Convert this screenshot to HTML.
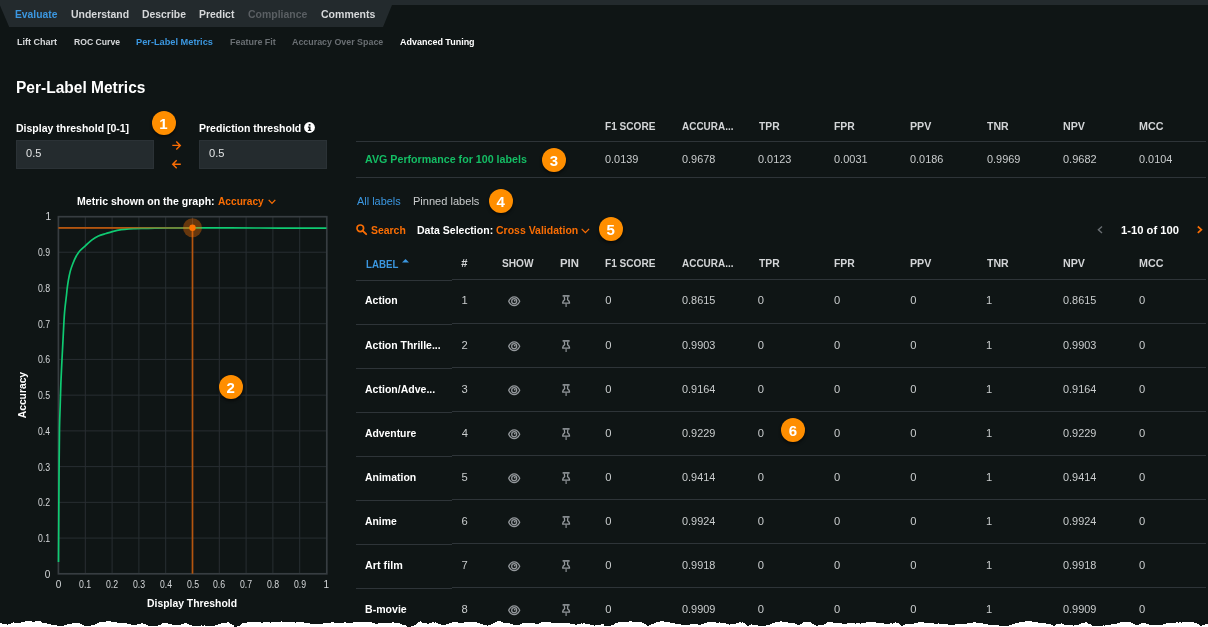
<!DOCTYPE html><html lang="en"><head><meta charset="utf-8"><title>Per-Label Metrics</title><style>
*{box-sizing:border-box}
html,body{margin:0;padding:0}
body{width:1208px;height:627px;overflow:hidden;background:#0f1515;position:relative;font-family:"Liberation Sans", sans-serif;font-weight:700}
.t{position:absolute;white-space:pre;line-height:1;margin:0;padding:0;font-weight:700;text-decoration:none;display:block;transform-origin:0 0}
h1.t{font-weight:700}
.navbg{position:absolute;left:0;top:0;width:1208px;height:27px;background:#232a2d;clip-path:polygon(0 0,1208px 0,1208px 5px,392px 5px,383px 27px,9.2px 27px,0 5.5px)}
.inp{position:absolute;top:140px;height:28.8px;background:#242b2e;border:1px solid #2b3236}
.hl{position:absolute;height:1px;background:#2e3438}
.badge{position:absolute;border-radius:50%;background:#ff8e00;box-shadow:0 2px 3px rgba(0,0,0,.55)}
.ic{position:absolute;overflow:visible}
.chart text{font-family:"Liberation Sans", sans-serif}
.chart .ax{fill:#fff;font-weight:700}
</style></head><body><div class="navbg"></div><nav class="tabs"><a class="t" style="left:15.47px;top:8.90px;font-size:11.3px;color:#3b97e0;transform:scaleX(0.912);">Evaluate</a><a class="t" style="left:71.14px;top:8.90px;font-size:11.3px;color:#d6d8da;transform:scaleX(0.926);">Understand</a><a class="t" style="left:142.24px;top:8.90px;font-size:11.3px;color:#d6d8da;transform:scaleX(0.920);">Describe</a><a class="t" style="left:199.19px;top:8.90px;font-size:11.3px;color:#d6d8da;transform:scaleX(0.923);">Predict</a><a class="t" style="left:248.27px;top:8.90px;font-size:11.3px;color:#5a5f63;transform:scaleX(0.928);">Compliance</a><a class="t" style="left:320.53px;top:8.90px;font-size:11.3px;color:#d6d8da;transform:scaleX(0.932);">Comments</a></nav><nav class="subtabs"><a class="t" style="left:17.39px;top:37.10px;font-size:9.6px;color:#d6d8da;transform:scaleX(0.941);">Lift Chart</a><a class="t" style="left:73.88px;top:37.10px;font-size:9.6px;color:#d6d8da;transform:scaleX(0.900);">ROC Curve</a><a class="t" style="left:136.18px;top:37.10px;font-size:9.6px;color:#3b97e0;transform:scaleX(0.962);">Per-Label Metrics</a><a class="t" style="left:229.84px;top:37.10px;font-size:9.6px;color:#6a6f73;transform:scaleX(0.934);">Feature Fit</a><a class="t" style="left:291.77px;top:37.10px;font-size:9.6px;color:#6a6f73;transform:scaleX(0.925);">Accuracy Over Space</a><a class="t" style="left:399.83px;top:37.10px;font-size:9.6px;color:#ffffff;transform:scaleX(0.935);">Advanced Tuning</a></nav><main><h1 class="t" style="left:15.55px;top:80.00px;font-size:16.8px;color:#ffffff;transform:scaleX(0.925);">Per-Label Metrics</h1><section class="thresholds"><div class="inp" style="left:16px;width:138px"></div><div class="inp" style="left:199px;width:128px"></div><label class="t" style="left:16.14px;top:121.50px;font-size:11.6px;color:#ffffff;transform:scaleX(0.905);">Display threshold [0-1]</label><label class="t" style="left:199.01px;top:121.50px;font-size:11.6px;color:#ffffff;transform:scaleX(0.907);">Prediction threshold</label><span class="t" style="left:25.97px;top:148.10px;font-size:11.3px;color:#e2e4e5;font-weight:400;transform:scaleX(0.975);">0.5</span><span class="t" style="left:208.64px;top:148.10px;font-size:11.3px;color:#e2e4e5;font-weight:400;transform:scaleX(0.985);">0.5</span><svg class="ic" style="left:304px;top:121.8px" width="11" height="11" viewBox="0 0 11 11"><circle cx="5.5" cy="5.5" r="5.4" fill="#fff"/><rect x="4.700" y="2" width="1.800" height="1.700" fill="#101516"/><path d="M3.900 4.600h2.600v3.300h0.800v1.100H3.900V7.900h0.900V5.700H3.900z" fill="#101516"/></svg><svg class="ic" style="left:171.700px;top:141px" width="10" height="28" viewBox="0 0 10 28"><path d="M0.300 4.400H8M4.300 0.400L8.300 4.400L4.300 8.400M8.800 23.300H1M4.700 19.300L0.700 23.300L4.700 27.300" fill="none" stroke="#f96d04" stroke-width="1.400"/></svg></section><section class="graph"><div class="metric"><span class="t" style="left:77.13px;top:196.20px;font-size:11px;color:#ffffff;transform:scaleX(0.958);">Metric shown on the graph:</span><span class="t" style="left:217.98px;top:196.20px;font-size:11px;color:#f96d04;transform:scaleX(0.923);">Accuracy</span><svg class="ic" style="left:268px;top:199.200px" width="8" height="6" viewBox="0 0 8 6"><path d="M0.700 0.900L4 4.400L7.300 0.900" fill="none" stroke="#f96d04" stroke-width="1.300"/></svg></div><svg class="chart" width="350" height="420" viewBox="0 195 350 420" style="position:absolute;left:0;top:195px"><path d="M85.30 216.5V573.8M58.5 538.07H326.5M112.10 216.5V573.8M58.5 502.34H326.5M138.90 216.5V573.8M58.5 466.61H326.5M165.70 216.5V573.8M58.5 430.88H326.5M192.50 216.5V573.8M58.5 395.15H326.5M219.30 216.5V573.8M58.5 359.42H326.5M246.10 216.5V573.8M58.5 323.69H326.5M272.90 216.5V573.8M58.5 287.96H326.5M299.70 216.5V573.8M58.5 252.23H326.5" stroke="#282e32" stroke-width="1" fill="none"/><rect x="58.4" y="216.700" width="268.4" height="357.100" fill="none" stroke="#373d41" stroke-width="1.700"/><path d="M58.5 227.8H192.5V573.8" stroke="#b4550f" stroke-width="1.700" fill="none"/><path d="M58.50 562.00C58.53 556.67 58.62 543.67 58.70 530.00C58.78 516.33 58.87 496.90 59.00 480.00C59.13 463.10 59.30 441.02 59.50 428.60C59.70 416.18 59.97 413.20 60.20 405.50C60.43 397.80 60.60 390.10 60.90 382.40C61.20 374.70 61.62 367.00 62.00 359.30C62.38 351.60 62.78 343.90 63.20 336.20C63.62 328.50 63.95 319.97 64.50 313.10C65.05 306.23 66.07 299.02 66.50 295.00C66.93 290.98 66.78 291.48 67.10 289.00C67.42 286.52 67.87 283.08 68.40 280.10C68.93 277.12 69.55 273.87 70.30 271.10C71.05 268.33 71.94 265.93 72.90 263.50C73.86 261.07 74.88 258.63 76.05 256.50C77.22 254.37 78.31 252.52 79.90 250.70C81.49 248.88 83.58 247.40 85.60 245.60C87.62 243.80 89.87 241.49 92.00 239.90C94.13 238.31 96.07 237.12 98.40 236.05C100.73 234.98 103.67 234.24 106.00 233.50C108.33 232.76 109.85 232.23 112.40 231.60C114.95 230.97 118.53 230.17 121.30 229.70C124.07 229.23 126.72 228.99 129.00 228.80C131.28 228.61 132.33 228.62 135.00 228.55C137.67 228.48 141.67 228.46 145.00 228.40C148.33 228.34 151.53 228.27 155.00 228.20C158.47 228.13 159.55 228.07 165.80 228.00C172.05 227.93 181.80 227.82 192.50 227.80C203.20 227.78 215.42 227.85 230.00 227.90C244.58 227.95 263.92 228.05 280.00 228.10C296.08 228.15 318.75 228.18 326.50 228.20" stroke="#0fca72" stroke-width="1.7" fill="none" stroke-linejoin="round"/><path d="M58.5 227.8H192.5" stroke="#b4550f" stroke-width="1.700" stroke-opacity="0.5" fill="none"/><circle cx="192.5" cy="227.8" r="9.5" fill="#ff7300" fill-opacity="0.37"/><circle cx="192.5" cy="227.8" r="3.2" fill="#ff7300"/><text transform="translate(25.8 395.100) rotate(-90)" text-anchor="middle" class="ax" style="font-size:10.3px;letter-spacing:0">Accuracy</text></svg><div class="yticks"><span class="t" style="left:44.85px;top:569.70px;font-size:10px;color:#d4d7d9;font-weight:400;">0</span><span class="t" style="left:37.55px;top:533.97px;font-size:10px;color:#d4d7d9;font-weight:400;transform:scaleX(0.878);">0.1</span><span class="t" style="left:37.55px;top:498.24px;font-size:10px;color:#d4d7d9;font-weight:400;transform:scaleX(0.876);">0.2</span><span class="t" style="left:37.55px;top:462.51px;font-size:10px;color:#d4d7d9;font-weight:400;transform:scaleX(0.875);">0.3</span><span class="t" style="left:37.55px;top:426.78px;font-size:10px;color:#d4d7d9;font-weight:400;transform:scaleX(0.859);">0.4</span><span class="t" style="left:37.55px;top:391.05px;font-size:10px;color:#d4d7d9;font-weight:400;transform:scaleX(0.874);">0.5</span><span class="t" style="left:37.55px;top:355.32px;font-size:10px;color:#d4d7d9;font-weight:400;transform:scaleX(0.875);">0.6</span><span class="t" style="left:37.55px;top:319.59px;font-size:10px;color:#d4d7d9;font-weight:400;transform:scaleX(0.868);">0.7</span><span class="t" style="left:37.55px;top:283.86px;font-size:10px;color:#d4d7d9;font-weight:400;transform:scaleX(0.875);">0.8</span><span class="t" style="left:37.55px;top:248.13px;font-size:10px;color:#d4d7d9;font-weight:400;transform:scaleX(0.868);">0.9</span><span class="t" style="left:45.46px;top:212.40px;font-size:10px;color:#d4d7d9;font-weight:400;">1</span></div><div class="xticks"><span class="t" style="left:55.75px;top:580.00px;font-size:10px;color:#d4d7d9;font-weight:400;">0</span><span class="t" style="left:79.40px;top:580.00px;font-size:10px;color:#d4d7d9;font-weight:400;transform:scaleX(0.878);">0.1</span><span class="t" style="left:105.60px;top:580.00px;font-size:10px;color:#d4d7d9;font-weight:400;transform:scaleX(0.876);">0.2</span><span class="t" style="left:133.17px;top:580.00px;font-size:10px;color:#d4d7d9;font-weight:400;transform:scaleX(0.875);">0.3</span><span class="t" style="left:159.82px;top:580.00px;font-size:10px;color:#d4d7d9;font-weight:400;transform:scaleX(0.859);">0.4</span><span class="t" style="left:186.95px;top:580.00px;font-size:10px;color:#d4d7d9;font-weight:400;transform:scaleX(0.874);">0.5</span><span class="t" style="left:213.41px;top:580.00px;font-size:10px;color:#d4d7d9;font-weight:400;transform:scaleX(0.875);">0.6</span><span class="t" style="left:239.60px;top:580.00px;font-size:10px;color:#d4d7d9;font-weight:400;transform:scaleX(0.868);">0.7</span><span class="t" style="left:267.17px;top:580.00px;font-size:10px;color:#d4d7d9;font-weight:400;transform:scaleX(0.875);">0.8</span><span class="t" style="left:293.80px;top:580.00px;font-size:10px;color:#d4d7d9;font-weight:400;transform:scaleX(0.868);">0.9</span><span class="t" style="left:323.56px;top:580.00px;font-size:10px;color:#d4d7d9;font-weight:400;">1</span></div><span class="t" style="left:146.58px;top:598.10px;font-size:11px;color:#ffffff;transform:scaleX(0.944);">Display Threshold</span></section><section class="summary"><div class="hl" style="left:356px;top:141.1px;width:850px"></div><div class="hl" style="left:356px;top:176.6px;width:850px"></div><div class="sumhead"><span class="t" style="left:605.49px;top:121.00px;font-size:11px;color:#d3d5d7;transform:scaleX(0.918);">F1 SCORE</span><span class="t" style="left:681.57px;top:121.00px;font-size:11px;color:#d3d5d7;transform:scaleX(0.905);">ACCURA...</span><span class="t" style="left:758.80px;top:121.00px;font-size:11px;color:#d3d5d7;transform:scaleX(0.938);">TPR</span><span class="t" style="left:834.32px;top:121.00px;font-size:11px;color:#d3d5d7;transform:scaleX(0.945);">FPR</span><span class="t" style="left:910.14px;top:121.00px;font-size:11px;color:#d3d5d7;transform:scaleX(0.971);">PPV</span><span class="t" style="left:986.58px;top:121.00px;font-size:11px;color:#d3d5d7;transform:scaleX(0.957);">TNR</span><span class="t" style="left:1062.61px;top:121.00px;font-size:11px;color:#d3d5d7;transform:scaleX(0.971);">NPV</span><span class="t" style="left:1139.28px;top:121.00px;font-size:11px;color:#d3d5d7;transform:scaleX(0.977);">MCC</span></div><div class="sumrow"><span class="t" style="left:365.19px;top:154.00px;font-size:11.0px;color:#14bd64;transform:scaleX(0.971);">AVG Performance for 100 labels</span><span class="t" style="left:605.36px;top:154.00px;font-size:11.2px;color:#c9cccd;font-weight:400;transform:scaleX(0.977);">0.0139</span><span class="t" style="left:682.04px;top:154.00px;font-size:11.2px;color:#c9cccd;font-weight:400;transform:scaleX(0.975);">0.9678</span><span class="t" style="left:758.40px;top:154.00px;font-size:11.2px;color:#c9cccd;font-weight:400;transform:scaleX(0.975);">0.0123</span><span class="t" style="left:834.01px;top:154.00px;font-size:11.2px;color:#c9cccd;font-weight:400;transform:scaleX(0.983);">0.0031</span><span class="t" style="left:910.38px;top:154.00px;font-size:11.2px;color:#c9cccd;font-weight:400;transform:scaleX(0.975);">0.0186</span><span class="t" style="left:986.86px;top:154.00px;font-size:11.2px;color:#c9cccd;font-weight:400;transform:scaleX(0.977);">0.9969</span><span class="t" style="left:1063.40px;top:154.00px;font-size:11.2px;color:#c9cccd;font-weight:400;transform:scaleX(0.982);">0.9682</span><span class="t" style="left:1139.01px;top:154.00px;font-size:11.2px;color:#c9cccd;font-weight:400;transform:scaleX(0.974);">0.0104</span></div></section><div class="ltabs"><a class="t" style="left:356.82px;top:195.80px;font-size:11.2px;color:#3b97e0;font-weight:400;transform:scaleX(0.976);">All labels</a><a class="t" style="left:413.18px;top:195.80px;font-size:11.2px;color:#c9cccd;font-weight:400;transform:scaleX(0.988);">Pinned labels</a></div><div class="toolbar"><svg class="ic" style="left:356px;top:223.600px" width="11" height="11" viewBox="0 0 11 11"><circle cx="4.300" cy="4.300" r="3.300" fill="none" stroke="#f96d04" stroke-width="1.700"/><path d="M6.800 6.800L10.200 10.200" stroke="#f96d04" stroke-width="1.900" stroke-linecap="round"/></svg><span class="t" style="left:370.99px;top:225.00px;font-size:11.3px;color:#f96d04;transform:scaleX(0.922);">Search</span><span class="t" style="left:416.82px;top:225.00px;font-size:11.3px;color:#ffffff;transform:scaleX(0.933);">Data Selection:</span><span class="t" style="left:496.24px;top:225.00px;font-size:11.3px;color:#f96d04;transform:scaleX(0.929);">Cross Validation</span><span class="t" style="left:1120.54px;top:225.00px;font-size:11.3px;color:#ffffff;transform:scaleX(0.992);">1-10 of 100</span><svg class="ic" style="left:581px;top:227.500px" width="9" height="6" viewBox="0 0 9 6"><path d="M0.700 0.900L4.400 4.600L8.100 0.900" fill="none" stroke="#f96d04" stroke-width="1.300"/></svg><svg class="ic" style="left:1096.500px;top:226px" width="6" height="8" viewBox="0 0 6 8"><path d="M5 0.500L1.400 3.700L5 6.900" fill="none" stroke="#6a6f73" stroke-width="1.400"/></svg><svg class="ic" style="left:1197px;top:226px" width="6" height="8" viewBox="0 0 6 8"><path d="M0.800 0.500L4.400 3.700L0.800 6.900" fill="none" stroke="#f96d04" stroke-width="1.700"/></svg></div><section class="table"><div class="thead"><span class="t" style="left:365.71px;top:259.10px;font-size:11.2px;color:#3b97e0;transform:scaleX(0.868);">LABEL</span><span class="t" style="left:461.27px;top:258.40px;font-size:11.2px;color:#d3d5d7;">#</span><span class="t" style="left:501.67px;top:258.40px;font-size:11.2px;color:#d3d5d7;transform:scaleX(0.904);">SHOW</span><span class="t" style="left:559.51px;top:258.40px;font-size:11.2px;color:#d3d5d7;transform:scaleX(1.015);">PIN</span><span class="t" style="left:605.49px;top:258.40px;font-size:11px;color:#d3d5d7;transform:scaleX(0.918);">F1 SCORE</span><span class="t" style="left:681.57px;top:258.40px;font-size:11px;color:#d3d5d7;transform:scaleX(0.905);">ACCURA...</span><span class="t" style="left:758.80px;top:258.40px;font-size:11px;color:#d3d5d7;transform:scaleX(0.938);">TPR</span><span class="t" style="left:834.32px;top:258.40px;font-size:11px;color:#d3d5d7;transform:scaleX(0.945);">FPR</span><span class="t" style="left:910.14px;top:258.40px;font-size:11px;color:#d3d5d7;transform:scaleX(0.971);">PPV</span><span class="t" style="left:986.58px;top:258.40px;font-size:11px;color:#d3d5d7;transform:scaleX(0.957);">TNR</span><span class="t" style="left:1062.61px;top:258.40px;font-size:11px;color:#d3d5d7;transform:scaleX(0.971);">NPV</span><span class="t" style="left:1139.28px;top:258.40px;font-size:11px;color:#d3d5d7;transform:scaleX(0.977);">MCC</span><svg class="ic" style="left:402px;top:259.200px" width="7" height="4" viewBox="0 0 7 4"><path d="M0 3.400L3.500 0L7 3.400z" fill="#3b97e0"/></svg></div><div class="hl" style="left:356px;top:280.00px;width:96px"></div><div class="hl" style="left:452px;top:278.80px;width:754px"></div><div class="row"><span class="t" style="left:365.32px;top:295.10px;font-size:11.5px;color:#ffffff;transform:scaleX(0.911);">Action</span><span class="t" style="left:461.45px;top:295.10px;font-size:11.2px;color:#c9cccd;font-weight:400;">1</span><span class="t" style="left:605.27px;top:295.10px;font-size:11.2px;color:#c9cccd;font-weight:400;">0</span><span class="t" style="left:682.04px;top:295.10px;font-size:11.2px;color:#c9cccd;font-weight:400;transform:scaleX(0.975);">0.8615</span><span class="t" style="left:757.77px;top:295.10px;font-size:11.2px;color:#c9cccd;font-weight:400;">0</span><span class="t" style="left:833.98px;top:295.10px;font-size:11.2px;color:#c9cccd;font-weight:400;">0</span><span class="t" style="left:910.27px;top:295.10px;font-size:11.2px;color:#c9cccd;font-weight:400;">0</span><span class="t" style="left:986.00px;top:295.10px;font-size:11.2px;color:#c9cccd;font-weight:400;">1</span><span class="t" style="left:1063.40px;top:295.10px;font-size:11.2px;color:#c9cccd;font-weight:400;transform:scaleX(0.975);">0.8615</span><span class="t" style="left:1138.97px;top:295.10px;font-size:11.2px;color:#c9cccd;font-weight:400;">0</span><svg class="ic" style="left:507.80px;top:295.80px" width="13" height="11" viewBox="0 0 13 11"><path d="M0.700 5.200C2 2.300 4 0.900 6.200 0.900s4.200 1.400 5.500 4.300C10.400 8.100 8.400 9.500 6.200 9.500S2 8.100 0.700 5.200z" fill="none" stroke="#94989c" stroke-width="1.300" stroke-linejoin="round"/><circle cx="6.2" cy="5.200" r="2.500" fill="none" stroke="#94989c" stroke-width="1.300"/><circle cx="6.700" cy="4.700" r="0.900" fill="#94989c"/></svg><svg class="ic" style="left:561.90px;top:294.80px" width="9" height="13" viewBox="0 0 9 13"><path d="M0.600 0.100h7v1.600h-7z" fill="#94989c"/><path d="M2.300 1.500L2.700 4.600C1.400 5.400 0.700 6.500 0.600 8.100h7C7.500 6.500 6.800 5.400 5.500 4.600L5.900 1.500" fill="none" stroke="#94989c" stroke-width="1.300" stroke-linejoin="round"/><path d="M4.100 8.400V11.900" stroke="#8a8e92" stroke-width="1.200" fill="none"/></svg></div><div class="hl" style="left:356px;top:324.05px;width:96px"></div><div class="hl" style="left:452px;top:322.85px;width:754px"></div><div class="row"><span class="t" style="left:365.34px;top:340.00px;font-size:11.5px;color:#ffffff;transform:scaleX(0.911);">Action Thrille...</span><span class="t" style="left:461.58px;top:340.00px;font-size:11.2px;color:#c9cccd;font-weight:400;">2</span><span class="t" style="left:605.27px;top:340.00px;font-size:11.2px;color:#c9cccd;font-weight:400;">0</span><span class="t" style="left:682.04px;top:340.00px;font-size:11.2px;color:#c9cccd;font-weight:400;transform:scaleX(0.975);">0.9903</span><span class="t" style="left:757.77px;top:340.00px;font-size:11.2px;color:#c9cccd;font-weight:400;">0</span><span class="t" style="left:833.98px;top:340.00px;font-size:11.2px;color:#c9cccd;font-weight:400;">0</span><span class="t" style="left:910.27px;top:340.00px;font-size:11.2px;color:#c9cccd;font-weight:400;">0</span><span class="t" style="left:986.00px;top:340.00px;font-size:11.2px;color:#c9cccd;font-weight:400;">1</span><span class="t" style="left:1063.40px;top:340.00px;font-size:11.2px;color:#c9cccd;font-weight:400;transform:scaleX(0.975);">0.9903</span><span class="t" style="left:1138.97px;top:340.00px;font-size:11.2px;color:#c9cccd;font-weight:400;">0</span><svg class="ic" style="left:507.80px;top:340.70px" width="13" height="11" viewBox="0 0 13 11"><path d="M0.700 5.200C2 2.300 4 0.900 6.200 0.900s4.200 1.400 5.500 4.300C10.400 8.100 8.400 9.500 6.200 9.500S2 8.100 0.700 5.200z" fill="none" stroke="#94989c" stroke-width="1.300" stroke-linejoin="round"/><circle cx="6.2" cy="5.200" r="2.500" fill="none" stroke="#94989c" stroke-width="1.300"/><circle cx="6.700" cy="4.700" r="0.900" fill="#94989c"/></svg><svg class="ic" style="left:561.90px;top:339.70px" width="9" height="13" viewBox="0 0 9 13"><path d="M0.600 0.100h7v1.600h-7z" fill="#94989c"/><path d="M2.300 1.500L2.700 4.600C1.400 5.400 0.700 6.500 0.600 8.100h7C7.500 6.500 6.800 5.400 5.500 4.600L5.900 1.500" fill="none" stroke="#94989c" stroke-width="1.300" stroke-linejoin="round"/><path d="M4.100 8.400V11.900" stroke="#8a8e92" stroke-width="1.200" fill="none"/></svg></div><div class="hl" style="left:356px;top:368.10px;width:96px"></div><div class="hl" style="left:452px;top:366.90px;width:754px"></div><div class="row"><span class="t" style="left:365.31px;top:384.10px;font-size:11.5px;color:#ffffff;transform:scaleX(0.915);">Action/Adve...</span><span class="t" style="left:461.58px;top:384.10px;font-size:11.2px;color:#c9cccd;font-weight:400;">3</span><span class="t" style="left:605.27px;top:384.10px;font-size:11.2px;color:#c9cccd;font-weight:400;">0</span><span class="t" style="left:682.04px;top:384.10px;font-size:11.2px;color:#c9cccd;font-weight:400;transform:scaleX(0.974);">0.9164</span><span class="t" style="left:757.77px;top:384.10px;font-size:11.2px;color:#c9cccd;font-weight:400;">0</span><span class="t" style="left:833.98px;top:384.10px;font-size:11.2px;color:#c9cccd;font-weight:400;">0</span><span class="t" style="left:910.27px;top:384.10px;font-size:11.2px;color:#c9cccd;font-weight:400;">0</span><span class="t" style="left:986.00px;top:384.10px;font-size:11.2px;color:#c9cccd;font-weight:400;">1</span><span class="t" style="left:1062.50px;top:384.10px;font-size:11.2px;color:#c9cccd;font-weight:400;transform:scaleX(0.974);">0.9164</span><span class="t" style="left:1138.97px;top:384.10px;font-size:11.2px;color:#c9cccd;font-weight:400;">0</span><svg class="ic" style="left:507.80px;top:384.80px" width="13" height="11" viewBox="0 0 13 11"><path d="M0.700 5.200C2 2.300 4 0.900 6.200 0.900s4.200 1.400 5.500 4.300C10.400 8.100 8.400 9.500 6.200 9.500S2 8.100 0.700 5.200z" fill="none" stroke="#94989c" stroke-width="1.300" stroke-linejoin="round"/><circle cx="6.2" cy="5.200" r="2.500" fill="none" stroke="#94989c" stroke-width="1.300"/><circle cx="6.700" cy="4.700" r="0.900" fill="#94989c"/></svg><svg class="ic" style="left:561.90px;top:383.80px" width="9" height="13" viewBox="0 0 9 13"><path d="M0.600 0.100h7v1.600h-7z" fill="#94989c"/><path d="M2.300 1.500L2.700 4.600C1.400 5.400 0.700 6.500 0.600 8.100h7C7.500 6.500 6.800 5.400 5.500 4.600L5.900 1.500" fill="none" stroke="#94989c" stroke-width="1.300" stroke-linejoin="round"/><path d="M4.100 8.400V11.900" stroke="#8a8e92" stroke-width="1.200" fill="none"/></svg></div><div class="hl" style="left:356px;top:412.15px;width:96px"></div><div class="hl" style="left:452px;top:410.95px;width:754px"></div><div class="row"><span class="t" style="left:365.36px;top:428.10px;font-size:11.5px;color:#ffffff;transform:scaleX(0.901);">Adventure</span><span class="t" style="left:461.64px;top:428.10px;font-size:11.2px;color:#c9cccd;font-weight:400;">4</span><span class="t" style="left:605.27px;top:428.10px;font-size:11.2px;color:#c9cccd;font-weight:400;">0</span><span class="t" style="left:682.04px;top:428.10px;font-size:11.2px;color:#c9cccd;font-weight:400;transform:scaleX(0.977);">0.9229</span><span class="t" style="left:757.77px;top:428.10px;font-size:11.2px;color:#c9cccd;font-weight:400;">0</span><span class="t" style="left:833.98px;top:428.10px;font-size:11.2px;color:#c9cccd;font-weight:400;">0</span><span class="t" style="left:910.27px;top:428.10px;font-size:11.2px;color:#c9cccd;font-weight:400;">0</span><span class="t" style="left:986.00px;top:428.10px;font-size:11.2px;color:#c9cccd;font-weight:400;">1</span><span class="t" style="left:1063.40px;top:428.10px;font-size:11.2px;color:#c9cccd;font-weight:400;transform:scaleX(0.977);">0.9229</span><span class="t" style="left:1138.97px;top:428.10px;font-size:11.2px;color:#c9cccd;font-weight:400;">0</span><svg class="ic" style="left:507.80px;top:428.80px" width="13" height="11" viewBox="0 0 13 11"><path d="M0.700 5.200C2 2.300 4 0.900 6.200 0.900s4.200 1.400 5.500 4.300C10.400 8.100 8.400 9.500 6.200 9.500S2 8.100 0.700 5.200z" fill="none" stroke="#94989c" stroke-width="1.300" stroke-linejoin="round"/><circle cx="6.2" cy="5.200" r="2.500" fill="none" stroke="#94989c" stroke-width="1.300"/><circle cx="6.700" cy="4.700" r="0.900" fill="#94989c"/></svg><svg class="ic" style="left:561.90px;top:427.80px" width="9" height="13" viewBox="0 0 9 13"><path d="M0.600 0.100h7v1.600h-7z" fill="#94989c"/><path d="M2.300 1.500L2.700 4.600C1.400 5.400 0.700 6.500 0.600 8.100h7C7.500 6.500 6.800 5.400 5.500 4.600L5.900 1.500" fill="none" stroke="#94989c" stroke-width="1.300" stroke-linejoin="round"/><path d="M4.100 8.400V11.900" stroke="#8a8e92" stroke-width="1.200" fill="none"/></svg></div><div class="hl" style="left:356px;top:456.20px;width:96px"></div><div class="hl" style="left:452px;top:455.00px;width:754px"></div><div class="row"><span class="t" style="left:365.33px;top:472.10px;font-size:11.5px;color:#ffffff;transform:scaleX(0.910);">Animation</span><span class="t" style="left:461.58px;top:472.10px;font-size:11.2px;color:#c9cccd;font-weight:400;">5</span><span class="t" style="left:605.27px;top:472.10px;font-size:11.2px;color:#c9cccd;font-weight:400;">0</span><span class="t" style="left:682.04px;top:472.10px;font-size:11.2px;color:#c9cccd;font-weight:400;transform:scaleX(0.974);">0.9414</span><span class="t" style="left:757.77px;top:472.10px;font-size:11.2px;color:#c9cccd;font-weight:400;">0</span><span class="t" style="left:833.98px;top:472.10px;font-size:11.2px;color:#c9cccd;font-weight:400;">0</span><span class="t" style="left:910.27px;top:472.10px;font-size:11.2px;color:#c9cccd;font-weight:400;">0</span><span class="t" style="left:986.00px;top:472.10px;font-size:11.2px;color:#c9cccd;font-weight:400;">1</span><span class="t" style="left:1062.50px;top:472.10px;font-size:11.2px;color:#c9cccd;font-weight:400;transform:scaleX(0.974);">0.9414</span><span class="t" style="left:1138.97px;top:472.10px;font-size:11.2px;color:#c9cccd;font-weight:400;">0</span><svg class="ic" style="left:507.80px;top:472.80px" width="13" height="11" viewBox="0 0 13 11"><path d="M0.700 5.200C2 2.300 4 0.900 6.200 0.900s4.200 1.400 5.500 4.300C10.400 8.100 8.400 9.500 6.200 9.500S2 8.100 0.700 5.200z" fill="none" stroke="#94989c" stroke-width="1.300" stroke-linejoin="round"/><circle cx="6.2" cy="5.200" r="2.500" fill="none" stroke="#94989c" stroke-width="1.300"/><circle cx="6.700" cy="4.700" r="0.900" fill="#94989c"/></svg><svg class="ic" style="left:561.90px;top:471.80px" width="9" height="13" viewBox="0 0 9 13"><path d="M0.600 0.100h7v1.600h-7z" fill="#94989c"/><path d="M2.300 1.500L2.700 4.600C1.400 5.400 0.700 6.500 0.600 8.100h7C7.500 6.500 6.800 5.400 5.500 4.600L5.900 1.500" fill="none" stroke="#94989c" stroke-width="1.300" stroke-linejoin="round"/><path d="M4.100 8.400V11.900" stroke="#8a8e92" stroke-width="1.200" fill="none"/></svg></div><div class="hl" style="left:356px;top:500.25px;width:96px"></div><div class="hl" style="left:452px;top:499.05px;width:754px"></div><div class="row"><span class="t" style="left:365.34px;top:516.10px;font-size:11.5px;color:#ffffff;transform:scaleX(0.902);">Anime</span><span class="t" style="left:461.51px;top:516.10px;font-size:11.2px;color:#c9cccd;font-weight:400;">6</span><span class="t" style="left:605.27px;top:516.10px;font-size:11.2px;color:#c9cccd;font-weight:400;">0</span><span class="t" style="left:682.04px;top:516.10px;font-size:11.2px;color:#c9cccd;font-weight:400;transform:scaleX(0.974);">0.9924</span><span class="t" style="left:757.77px;top:516.10px;font-size:11.2px;color:#c9cccd;font-weight:400;">0</span><span class="t" style="left:833.98px;top:516.10px;font-size:11.2px;color:#c9cccd;font-weight:400;">0</span><span class="t" style="left:910.27px;top:516.10px;font-size:11.2px;color:#c9cccd;font-weight:400;">0</span><span class="t" style="left:986.00px;top:516.10px;font-size:11.2px;color:#c9cccd;font-weight:400;">1</span><span class="t" style="left:1062.50px;top:516.10px;font-size:11.2px;color:#c9cccd;font-weight:400;transform:scaleX(0.974);">0.9924</span><span class="t" style="left:1138.97px;top:516.10px;font-size:11.2px;color:#c9cccd;font-weight:400;">0</span><svg class="ic" style="left:507.80px;top:516.80px" width="13" height="11" viewBox="0 0 13 11"><path d="M0.700 5.200C2 2.300 4 0.900 6.200 0.900s4.200 1.400 5.500 4.300C10.400 8.100 8.400 9.500 6.200 9.500S2 8.100 0.700 5.200z" fill="none" stroke="#94989c" stroke-width="1.300" stroke-linejoin="round"/><circle cx="6.2" cy="5.200" r="2.500" fill="none" stroke="#94989c" stroke-width="1.300"/><circle cx="6.700" cy="4.700" r="0.900" fill="#94989c"/></svg><svg class="ic" style="left:561.90px;top:515.80px" width="9" height="13" viewBox="0 0 9 13"><path d="M0.600 0.100h7v1.600h-7z" fill="#94989c"/><path d="M2.300 1.500L2.700 4.600C1.400 5.400 0.700 6.500 0.600 8.100h7C7.500 6.500 6.800 5.400 5.500 4.600L5.900 1.500" fill="none" stroke="#94989c" stroke-width="1.300" stroke-linejoin="round"/><path d="M4.100 8.400V11.900" stroke="#8a8e92" stroke-width="1.200" fill="none"/></svg></div><div class="hl" style="left:356px;top:544.30px;width:96px"></div><div class="hl" style="left:452px;top:543.10px;width:754px"></div><div class="row"><span class="t" style="left:365.27px;top:560.00px;font-size:11.5px;color:#ffffff;transform:scaleX(0.937);">Art film</span><span class="t" style="left:461.58px;top:560.00px;font-size:11.2px;color:#c9cccd;font-weight:400;">7</span><span class="t" style="left:605.27px;top:560.00px;font-size:11.2px;color:#c9cccd;font-weight:400;">0</span><span class="t" style="left:682.04px;top:560.00px;font-size:11.2px;color:#c9cccd;font-weight:400;transform:scaleX(0.975);">0.9918</span><span class="t" style="left:757.77px;top:560.00px;font-size:11.2px;color:#c9cccd;font-weight:400;">0</span><span class="t" style="left:833.98px;top:560.00px;font-size:11.2px;color:#c9cccd;font-weight:400;">0</span><span class="t" style="left:910.27px;top:560.00px;font-size:11.2px;color:#c9cccd;font-weight:400;">0</span><span class="t" style="left:986.00px;top:560.00px;font-size:11.2px;color:#c9cccd;font-weight:400;">1</span><span class="t" style="left:1063.40px;top:560.00px;font-size:11.2px;color:#c9cccd;font-weight:400;transform:scaleX(0.975);">0.9918</span><span class="t" style="left:1138.97px;top:560.00px;font-size:11.2px;color:#c9cccd;font-weight:400;">0</span><svg class="ic" style="left:507.80px;top:560.70px" width="13" height="11" viewBox="0 0 13 11"><path d="M0.700 5.200C2 2.300 4 0.900 6.200 0.900s4.200 1.400 5.500 4.300C10.400 8.100 8.400 9.500 6.200 9.500S2 8.100 0.700 5.200z" fill="none" stroke="#94989c" stroke-width="1.300" stroke-linejoin="round"/><circle cx="6.2" cy="5.200" r="2.500" fill="none" stroke="#94989c" stroke-width="1.300"/><circle cx="6.700" cy="4.700" r="0.900" fill="#94989c"/></svg><svg class="ic" style="left:561.90px;top:559.70px" width="9" height="13" viewBox="0 0 9 13"><path d="M0.600 0.100h7v1.600h-7z" fill="#94989c"/><path d="M2.300 1.500L2.700 4.600C1.400 5.400 0.700 6.500 0.600 8.100h7C7.500 6.500 6.800 5.400 5.500 4.600L5.900 1.500" fill="none" stroke="#94989c" stroke-width="1.300" stroke-linejoin="round"/><path d="M4.100 8.400V11.900" stroke="#8a8e92" stroke-width="1.200" fill="none"/></svg></div><div class="hl" style="left:356px;top:588.35px;width:96px"></div><div class="hl" style="left:452px;top:587.15px;width:754px"></div><div class="row"><span class="t" style="left:364.69px;top:603.90px;font-size:11.5px;color:#ffffff;transform:scaleX(0.919);">B-movie</span><span class="t" style="left:461.58px;top:603.90px;font-size:11.2px;color:#c9cccd;font-weight:400;">8</span><span class="t" style="left:605.27px;top:603.90px;font-size:11.2px;color:#c9cccd;font-weight:400;">0</span><span class="t" style="left:682.04px;top:603.90px;font-size:11.2px;color:#c9cccd;font-weight:400;transform:scaleX(0.977);">0.9909</span><span class="t" style="left:757.77px;top:603.90px;font-size:11.2px;color:#c9cccd;font-weight:400;">0</span><span class="t" style="left:833.98px;top:603.90px;font-size:11.2px;color:#c9cccd;font-weight:400;">0</span><span class="t" style="left:910.27px;top:603.90px;font-size:11.2px;color:#c9cccd;font-weight:400;">0</span><span class="t" style="left:986.00px;top:603.90px;font-size:11.2px;color:#c9cccd;font-weight:400;">1</span><span class="t" style="left:1063.40px;top:603.90px;font-size:11.2px;color:#c9cccd;font-weight:400;transform:scaleX(0.977);">0.9909</span><span class="t" style="left:1138.97px;top:603.90px;font-size:11.2px;color:#c9cccd;font-weight:400;">0</span><svg class="ic" style="left:507.80px;top:604.60px" width="13" height="11" viewBox="0 0 13 11"><path d="M0.700 5.200C2 2.300 4 0.900 6.200 0.900s4.200 1.400 5.500 4.300C10.400 8.100 8.400 9.500 6.200 9.500S2 8.100 0.700 5.200z" fill="none" stroke="#94989c" stroke-width="1.300" stroke-linejoin="round"/><circle cx="6.2" cy="5.200" r="2.500" fill="none" stroke="#94989c" stroke-width="1.300"/><circle cx="6.700" cy="4.700" r="0.900" fill="#94989c"/></svg><svg class="ic" style="left:561.90px;top:603.60px" width="9" height="13" viewBox="0 0 9 13"><path d="M0.600 0.100h7v1.600h-7z" fill="#94989c"/><path d="M2.300 1.500L2.700 4.600C1.400 5.400 0.700 6.500 0.600 8.100h7C7.500 6.500 6.800 5.400 5.500 4.600L5.900 1.500" fill="none" stroke="#94989c" stroke-width="1.300" stroke-linejoin="round"/><path d="M4.100 8.400V11.900" stroke="#8a8e92" stroke-width="1.200" fill="none"/></svg></div></section></main><div class="badge" style="left:151.90px;top:111.00px;width:24.20px;height:24.20px"></div><span class="t" style="left:159.36px;top:115.90px;font-size:15px;color:#ffffff;">1</span><div class="badge" style="left:218.80px;top:375.30px;width:24.20px;height:24.20px"></div><span class="t" style="left:226.57px;top:380.20px;font-size:15px;color:#ffffff;">2</span><div class="badge" style="left:541.80px;top:147.80px;width:24.20px;height:24.20px"></div><span class="t" style="left:549.64px;top:152.70px;font-size:15px;color:#ffffff;">3</span><div class="badge" style="left:488.80px;top:188.90px;width:24.20px;height:24.20px"></div><span class="t" style="left:496.45px;top:193.80px;font-size:15px;color:#ffffff;">4</span><div class="badge" style="left:598.90px;top:217.10px;width:24.20px;height:24.20px"></div><span class="t" style="left:606.61px;top:222.00px;font-size:15px;color:#ffffff;">5</span><div class="badge" style="left:781.00px;top:418.00px;width:24.20px;height:24.20px"></div><span class="t" style="left:788.78px;top:422.90px;font-size:15px;color:#ffffff;">6</span><svg width="1208" height="8" viewBox="0 619 1208 8" style="position:absolute;left:0;top:619px"><path d="M0 627L0.0 622.7L1.9 623.6L4.0 624.3L6.1 623.9L7.7 624.6L9.5 624.3L10.6 623.5L11.9 623.0L13.6 622.3L14.8 622.7L16.9 623.3L18.1 623.5L19.3 623.3L20.5 622.5L22.5 622.4L23.8 622.4L25.8 621.2L28.0 621.4L29.8 621.1L31.9 621.5L34.1 621.7L35.4 621.3L36.6 621.1L37.7 621.2L39.4 620.9L41.2 621.8L42.6 622.9L44.2 622.7L45.8 623.2L46.8 623.6L47.9 623.6L49.9 623.7L51.8 624.7L53.5 624.8L54.6 625.0L56.7 625.2L58.6 626.0L60.8 625.8L62.2 626.3L64.1 625.4L66.0 625.3L68.0 623.9L70.2 623.5L71.6 623.6L73.7 623.1L75.8 623.3L77.2 623.1L78.4 622.9L79.6 623.4L81.8 623.9L82.8 625.2L84.5 625.6L85.7 626.2L87.7 626.5L89.2 626.1L91.3 625.2L92.9 625.3L94.1 624.7L96.2 623.8L98.2 622.7L99.7 622.4L101.7 622.0L103.2 622.3L105.3 621.9L106.8 621.2L108.7 621.3L110.0 621.4L111.2 621.5L113.4 622.3L115.2 622.2L116.6 622.1L117.9 622.9L119.9 622.6L121.9 623.1L123.7 623.1L125.6 623.1L127.5 623.5L129.0 624.5L130.9 624.4L133.0 625.0L134.7 624.6L136.4 624.6L138.2 624.3L140.1 623.9L142.1 622.7L143.9 623.9L145.9 624.6L147.9 625.6L149.7 626.1L151.9 626.0L153.5 625.5L155.5 626.1L157.1 625.8L158.9 625.4L160.1 624.8L161.8 623.6L163.3 623.4L165.3 623.4L167.1 622.8L168.3 623.5L170.1 623.8L171.9 624.6L173.0 624.8L174.3 624.8L175.4 625.4L176.6 625.3L177.7 625.4L179.1 625.2L180.8 624.5L182.9 623.6L184.4 623.4L185.9 622.7L187.9 623.8L188.9 624.5L190.1 624.9L191.5 625.4L193.6 626.3L195.1 626.6L196.9 625.8L198.1 625.8L199.7 625.8L201.9 625.3L203.3 625.8L204.3 625.2L206.0 625.9L207.2 626.1L209.2 625.8L210.8 625.6L212.1 626.2L213.6 626.1L215.7 625.0L217.0 624.9L218.6 623.8L219.9 624.1L221.5 623.3L223.1 623.0L224.9 622.7L226.2 622.6L228.2 622.0L229.8 623.1L232.0 624.8L233.3 625.2L234.4 626.6L235.8 626.5L237.4 626.5L239.1 626.1L240.2 625.2L241.6 623.8L243.0 622.9L244.6 622.8L246.1 622.9L247.8 621.9L249.1 622.2L251.2 622.6L252.8 621.8L254.8 622.2L256.5 622.4L258.2 622.3L260.3 622.3L261.8 622.8L263.0 622.4L265.0 622.1L267.0 622.6L268.5 622.1L270.5 622.6L271.6 622.2L273.3 622.1L274.7 621.7L276.4 622.3L277.5 621.7L279.5 622.1L281.3 621.4L283.1 622.1L285.3 621.6L286.4 621.7L287.6 621.8L289.8 622.2L290.9 622.1L293.0 622.1L294.8 622.5L296.0 622.7L297.0 622.1L298.5 621.9L299.6 622.2L301.4 622.3L302.6 622.1L304.0 622.6L305.6 623.3L307.0 622.9L308.9 623.2L310.6 623.9L312.7 624.3L314.4 624.3L316.1 624.1L318.0 624.2L319.2 623.8L320.6 624.1L321.8 624.0L323.6 623.2L325.4 623.0L326.6 623.4L327.9 623.5L329.4 622.9L331.4 622.5L333.3 622.3L334.4 623.0L336.3 622.5L337.4 623.3L339.2 623.3L340.4 623.0L341.8 622.5L343.2 622.7L344.6 622.3L345.8 622.5L347.5 622.6L349.1 622.8L350.7 622.6L352.4 622.8L353.9 622.1L354.9 622.1L355.9 622.6L357.5 622.3L358.5 622.0L360.6 622.0L362.1 621.9L363.2 621.5L364.4 621.7L365.9 622.1L367.1 621.5L368.4 621.7L369.7 622.0L371.3 622.1L373.4 622.9L375.5 623.7L377.4 623.8L379.5 623.2L381.3 623.2L383.1 623.4L384.3 622.8L385.3 622.7L386.4 622.8L388.6 622.6L390.0 622.6L391.3 622.7L393.2 622.1L394.5 622.5L396.6 622.7L398.1 623.4L399.1 622.9L401.0 623.9L402.1 624.4L404.3 625.2L405.7 625.4L406.8 626.4L408.4 626.8L409.4 626.5L410.5 626.5L411.6 626.1L413.1 625.9L414.1 625.4L416.3 624.0L417.9 622.8L419.5 621.6L420.9 621.1L422.6 622.7L424.3 623.5L425.5 623.0L427.2 623.7L428.9 623.5L430.6 623.0L432.7 622.1L434.3 622.8L435.5 622.3L436.9 622.8L438.8 624.5L440.2 624.3L441.3 624.7L442.4 625.2L444.1 625.4L445.2 625.6L446.2 624.6L447.6 624.1L448.7 623.6L450.1 623.3L451.7 622.7L453.5 622.0L455.2 621.8L457.2 622.3L459.3 623.2L461.2 623.1L463.1 622.7L464.3 622.2L465.5 622.0L467.3 622.0L468.4 622.3L470.1 621.6L471.1 621.7L472.6 622.4L474.7 622.3L476.0 622.3L477.4 622.6L478.4 623.1L480.4 623.7L481.5 623.8L482.7 624.3L484.3 624.9L486.2 624.7L487.6 625.8L489.2 624.9L490.7 624.5L492.8 623.4L495.0 622.5L496.1 622.3L497.6 621.3L499.8 621.0L501.5 621.8L503.5 622.8L504.8 623.0L506.0 623.0L507.5 622.9L508.7 622.7L510.0 623.7L512.0 624.3L513.8 624.8L515.0 625.8L516.5 624.9L517.8 624.5L519.6 624.6L520.9 624.0L522.2 623.5L524.3 622.7L526.2 622.7L527.2 622.9L529.0 622.8L530.4 623.0L531.5 623.0L532.9 623.2L534.8 623.4L536.9 624.0L539.0 623.5L540.8 622.5L542.8 621.8L544.5 622.0L546.1 621.6L547.2 621.4L548.7 622.1L550.6 622.5L551.9 622.9L553.3 622.8L554.4 622.9L556.2 623.2L558.2 623.1L560.2 623.2L562.0 622.6L563.6 623.1L564.9 623.1L566.5 622.7L567.5 622.8L568.8 623.2L570.8 623.7L572.6 623.7L573.7 624.2L575.4 624.7L576.8 624.7L578.1 624.0L579.4 624.1L581.5 623.4L583.2 623.7L584.5 622.9L586.2 624.0L588.2 624.4L589.7 624.5L591.4 625.2L592.7 624.9L594.5 625.8L595.7 625.0L596.8 625.3L598.5 624.6L599.8 624.7L601.5 624.4L603.4 624.3L605.0 626.1L607.2 625.6L609.2 625.9L611.3 625.5L613.1 625.2L614.7 623.8L615.9 623.2L617.0 622.8L618.8 622.3L620.7 622.5L622.7 622.0L624.5 622.4L626.7 622.3L628.8 621.5L630.0 621.3L631.2 621.3L632.7 621.8L634.6 621.8L636.1 622.6L637.6 622.2L639.3 622.3L641.1 622.3L643.3 623.4L644.4 623.7L646.2 624.5L647.4 625.6L648.8 625.7L650.9 624.4L652.2 624.0L654.1 623.5L655.8 622.4L657.2 622.5L658.8 621.5L660.3 621.5L662.1 621.1L663.4 621.1L665.0 622.1L666.6 621.8L668.8 621.8L670.2 622.8L671.2 622.9L672.6 622.5L673.9 623.2L675.4 623.6L676.5 623.6L678.6 624.4L680.2 624.2L681.5 625.0L683.3 624.7L684.4 624.6L686.3 624.7L688.1 625.1L689.8 624.9L690.9 624.1L692.8 623.7L694.8 623.7L696.9 623.6L699.1 625.0L701.2 624.6L703.2 623.7L705.3 623.3L706.6 622.5L707.9 622.2L709.2 622.3L710.4 621.8L711.9 621.7L713.4 622.4L715.5 621.9L716.5 622.6L718.6 622.7L719.8 622.4L721.9 623.2L722.9 622.6L724.5 622.9L726.4 623.6L728.3 624.0L729.9 624.8L731.8 623.8L732.9 624.1L734.3 623.7L735.9 623.5L738.1 622.6L739.8 622.3L741.4 622.6L742.6 622.3L744.4 623.3L746.3 625.2L747.9 626.4L749.9 624.9L751.5 624.1L753.0 625.1L754.0 625.6L755.5 625.3L757.6 625.4L759.3 625.9L761.4 626.4L763.6 625.5L764.8 625.9L765.9 625.3L767.8 625.1L769.2 625.0L770.6 624.2L772.6 623.3L774.0 623.2L775.7 622.4L777.2 621.8L778.3 621.7L779.5 621.9L780.8 621.2L782.8 621.8L784.1 622.0L785.8 621.8L787.6 622.0L788.9 622.8L790.4 623.0L791.6 622.5L792.7 623.2L794.4 622.7L795.4 623.8L797.0 624.6L798.1 624.9L799.2 625.1L800.9 624.0L802.2 623.6L803.3 622.4L805.2 621.9L806.2 622.0L808.0 622.2L809.9 621.8L811.7 623.2L812.8 623.7L814.1 624.1L815.1 625.2L816.7 626.1L818.3 625.4L819.6 625.4L821.7 625.3L822.8 625.2L823.9 624.6L825.6 623.8L826.8 622.5L828.4 621.8L830.0 621.8L832.1 622.2L833.4 622.7L835.0 623.3L836.7 623.3L838.2 623.5L840.2 623.2L841.3 623.2L842.8 623.8L844.1 623.6L845.8 623.8L847.0 623.6L848.4 622.9L850.1 623.6L851.8 623.0L854.0 623.4L855.8 623.7L857.1 623.3L858.5 623.0L859.6 623.5L861.1 623.6L862.1 622.9L863.3 623.3L865.3 623.0L866.9 622.0L868.4 621.9L869.4 622.1L870.8 621.6L872.4 622.2L874.5 622.1L875.7 622.5L876.8 622.5L877.9 623.1L879.5 622.8L880.9 623.1L883.0 623.3L884.3 623.5L886.4 623.6L888.2 624.2L889.5 623.9L891.2 623.1L892.2 623.7L893.8 622.9L895.9 622.4L897.5 622.8L899.4 623.9L901.0 625.5L902.7 625.9L903.9 625.1L905.8 623.5L908.0 623.7L909.2 623.8L910.7 624.5L912.8 624.0L914.6 623.4L916.3 623.1L917.7 622.5L919.6 622.0L921.5 621.8L923.2 622.1L924.8 622.7L926.9 622.7L928.3 623.4L929.5 623.0L931.0 623.6L932.1 623.3L934.0 623.5L935.0 623.7L936.4 623.7L938.2 623.4L940.2 623.6L941.6 623.6L943.2 623.5L945.0 623.9L946.1 623.9L947.1 624.4L949.1 624.9L950.1 624.7L951.7 624.6L952.9 625.5L955.0 624.5L957.0 624.4L958.4 624.0L959.7 623.6L960.7 623.9L962.4 623.9L964.0 623.5L965.4 623.7L966.8 623.5L968.7 623.3L970.6 622.7L971.9 623.1L973.1 622.2L974.1 622.6L975.2 622.3L976.7 622.7L978.3 622.6L979.3 623.0L981.2 623.2L983.2 623.6L985.1 624.2L986.8 623.9L988.9 625.3L990.1 624.9L991.6 625.4L993.0 625.5L994.3 625.1L995.8 625.0L997.7 625.1L998.9 625.7L1000.9 625.7L1002.2 625.6L1003.7 625.9L1004.8 626.1L1006.7 626.3L1008.7 625.7L1010.6 625.2L1012.7 624.4L1014.2 623.8L1016.0 623.3L1017.9 622.7L1019.1 622.4L1020.4 622.5L1022.3 621.7L1024.0 622.0L1025.4 621.1L1027.1 621.3L1028.3 621.2L1029.3 621.1L1030.8 621.0L1031.8 621.5L1034.0 622.0L1035.4 622.3L1036.5 621.8L1037.5 622.0L1039.2 623.1L1040.8 623.0L1042.3 622.6L1044.0 622.8L1045.2 623.0L1046.8 623.8L1048.1 623.7L1050.0 624.2L1051.7 625.0L1053.5 626.1L1054.6 625.6L1056.1 624.3L1058.1 624.5L1059.5 624.0L1060.6 623.6L1061.7 623.4L1063.8 624.3L1064.9 624.7L1066.4 625.1L1067.6 625.1L1069.2 625.0L1071.0 625.3L1072.3 625.0L1073.7 625.7L1075.0 624.8L1076.4 625.4L1077.5 624.5L1078.8 624.5L1080.4 623.6L1082.4 623.2L1084.2 622.7L1086.3 622.1L1087.5 622.8L1088.8 623.9L1090.4 624.3L1092.1 625.6L1093.7 625.9L1095.5 626.0L1097.0 625.7L1098.2 625.7L1100.2 625.5L1101.7 625.7L1103.4 625.3L1104.9 625.7L1106.0 625.0L1107.9 625.6L1108.9 624.8L1110.7 624.7L1112.5 624.2L1114.0 624.0L1115.4 624.1L1117.0 623.7L1119.1 622.9L1121.1 622.1L1122.6 621.9L1124.4 621.5L1126.5 621.5L1128.4 621.8L1130.5 622.0L1132.6 623.4L1133.7 624.0L1135.6 625.0L1136.9 624.5L1138.4 624.7L1139.9 623.6L1141.6 623.4L1143.4 623.3L1144.7 622.9L1146.7 623.7L1148.0 624.1L1149.7 624.7L1151.8 625.6L1153.1 625.4L1154.9 625.5L1157.0 625.4L1158.6 625.3L1160.2 624.8L1161.5 625.4L1163.4 624.2L1165.0 623.6L1166.1 623.5L1168.3 623.3L1169.6 622.9L1170.7 623.6L1172.6 623.3L1174.6 623.1L1175.9 622.4L1177.3 622.2L1178.5 622.7L1180.1 622.0L1181.4 622.6L1183.4 622.4L1185.3 622.5L1187.0 621.9L1188.7 621.8L1189.7 621.7L1191.3 621.5L1192.4 621.6L1193.8 622.4L1195.4 622.9L1197.3 623.5L1198.7 624.4L1200.1 625.6L1202.1 625.7L1203.4 624.6L1204.4 624.6L1205.7 623.8L1207.1 623.8L1208.0 623.9L1208 627Z" fill="#fff" shape-rendering="crispEdges"/></svg></body></html>
